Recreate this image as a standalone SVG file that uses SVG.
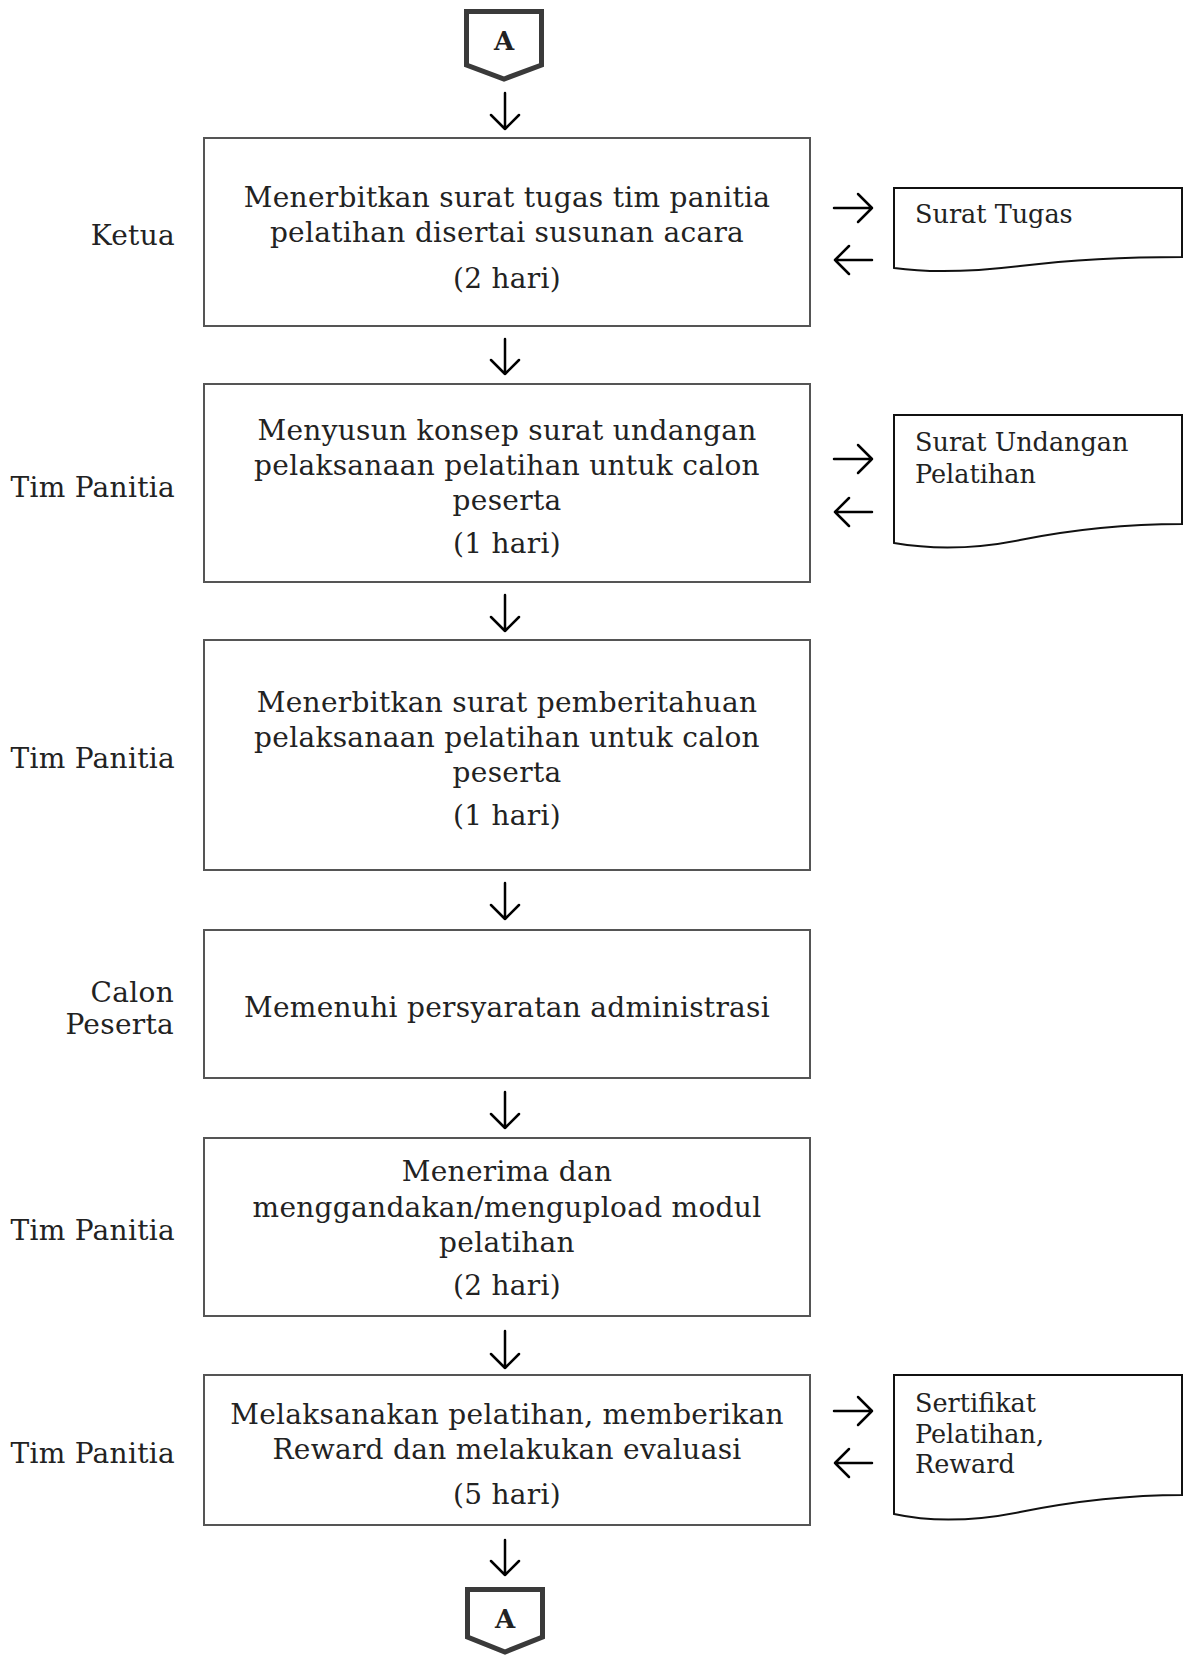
<svg xmlns="http://www.w3.org/2000/svg" width="1188" height="1657" viewBox="0 0 1188 1657">
<style>
.box{fill:#fff;stroke:#555;stroke-width:2}
.doc{fill:#fff;stroke:#111;stroke-width:2}
.conn{fill:#fff;stroke:#3a3a3a;stroke-width:5;stroke-linejoin:miter}
.t{font-family:"DejaVu Serif","Liberation Serif",serif;font-size:28px;letter-spacing:0.3px;fill:#222;text-anchor:middle}
.lbl{font-family:"DejaVu Serif","Liberation Serif",serif;font-size:28px;letter-spacing:0.3px;fill:#222;text-anchor:end}
.dt{font-family:"DejaVu Serif","Liberation Serif",serif;font-size:25.5px;fill:#222}
.ct{font-family:"DejaVu Serif","Liberation Serif",serif;font-size:26px;font-weight:bold;fill:#222;text-anchor:middle}
.arr{fill:none;stroke:#000;stroke-width:2.5;stroke-linecap:round;stroke-linejoin:round}
</style>
<rect width="1188" height="1657" fill="#fff"/>
<g id="connectors" class="arr">
<path d="M505,93 V129 M491,115 L505,129 L519,115"/>
<path d="M505,339 V374 M491,360 L505,374 L519,360"/>
<path d="M505,595 V631 M491,617 L505,631 L519,617"/>
<path d="M505,883 V919 M491,905 L505,919 L519,905"/>
<path d="M505,1092 V1128 M491,1114 L505,1128 L519,1114"/>
<path d="M505,1331 V1368 M491,1354 L505,1368 L519,1354"/>
<path d="M505,1540 V1575 M491,1561 L505,1575 L519,1561"/>
<path d="M834,208 H872 M858,194 L872,208 L858,222"/>
<path d="M835,260 H872 M849,246 L835,260 L849,274"/>
<path d="M834,459 H872 M858,445 L872,459 L858,473"/>
<path d="M835,512 H872 M849,498 L835,512 L849,526"/>
<path d="M834,1411 H872 M858,1397 L872,1411 L858,1425"/>
<path d="M835,1463 H872 M849,1449 L835,1463 L849,1477"/>
</g>
<g id="conn-top">
<path class="conn" d="M466.5,11.5 H541.5 V65 L504,79 L466.5,65 Z"/>
<text class="ct" x="504" y="50">A</text>
</g>
<g id="conn-bottom">
<path class="conn" d="M467.5,1589.5 H542.5 V1637 L505,1652 L467.5,1637 Z"/>
<text class="ct" x="505" y="1628">A</text>
</g>
<g id="lbl1"><text class="lbl" x="175" y="245">Ketua</text></g>
<g id="box1">
<rect class="box" x="204" y="138" width="606" height="188"/>
<text class="t" x="507" y="207">Menerbitkan surat tugas tim panitia</text>
<text class="t" x="507" y="242">pelatihan disertai susunan acara</text>
<text class="t" x="507" y="288">(2 hari)</text>
</g>
<g id="doc1">
<path class="doc" d="M894,188 H1182 V257 C1120,257 1070,260 1020,266 C970,272 930,273 894,268 Z"/>
<text class="dt" x="915" y="223">Surat Tugas</text>
</g>
<g id="lbl2"><text class="lbl" x="175" y="497">Tim Panitia</text></g>
<g id="box2">
<rect class="box" x="204" y="384" width="606" height="198"/>
<text class="t" x="507" y="440">Menyusun konsep surat undangan</text>
<text class="t" x="507" y="475">pelaksanaan pelatihan untuk calon</text>
<text class="t" x="507" y="510">peserta</text>
<text class="t" x="507" y="553">(1 hari)</text>
</g>
<g id="doc2">
<path class="doc" d="M894,415 H1182 V524 C1120,524 1070,530 1020,540 C975,549 935,550 894,543 Z"/>
<text class="dt" x="915" y="451">Surat Undangan</text>
<text class="dt" x="915" y="483">Pelatihan</text>
</g>
<g id="lbl3"><text class="lbl" x="175" y="768">Tim Panitia</text></g>
<g id="box3">
<rect class="box" x="204" y="640" width="606" height="230"/>
<text class="t" x="507" y="712">Menerbitkan surat pemberitahuan</text>
<text class="t" x="507" y="747">pelaksanaan pelatihan untuk calon</text>
<text class="t" x="507" y="782">peserta</text>
<text class="t" x="507" y="825">(1 hari)</text>
</g>
<g id="lbl4">
<text class="lbl" x="174" y="1002">Calon</text>
<text class="lbl" x="174" y="1034">Peserta</text>
</g>
<g id="box4">
<rect class="box" x="204" y="930" width="606" height="148"/>
<text class="t" x="507" y="1017">Memenuhi persyaratan administrasi</text>
</g>
<g id="lbl5"><text class="lbl" x="175" y="1240">Tim Panitia</text></g>
<g id="box5">
<rect class="box" x="204" y="1138" width="606" height="178"/>
<text class="t" x="507" y="1181">Menerima dan</text>
<text class="t" x="507" y="1217">menggandakan/mengupload modul</text>
<text class="t" x="507" y="1252">pelatihan</text>
<text class="t" x="507" y="1295">(2 hari)</text>
</g>
<g id="lbl6"><text class="lbl" x="175" y="1463">Tim Panitia</text></g>
<g id="box6">
<rect class="box" x="204" y="1375" width="606" height="150"/>
<text class="t" x="507" y="1424">Melaksanakan pelatihan, memberikan</text>
<text class="t" x="507" y="1459">Reward dan melakukan evaluasi</text>
<text class="t" x="507" y="1504">(5 hari)</text>
</g>
<g id="doc3">
<path class="doc" d="M894,1375 H1182 V1495 C1120,1495 1070,1502 1020,1512 C975,1521 935,1523 894,1514 Z"/>
<text class="dt" x="915" y="1412">Sertifikat</text>
<text class="dt" x="915" y="1443">Pelatihan,</text>
<text class="dt" x="915" y="1473">Reward</text>
</g>
</svg>
